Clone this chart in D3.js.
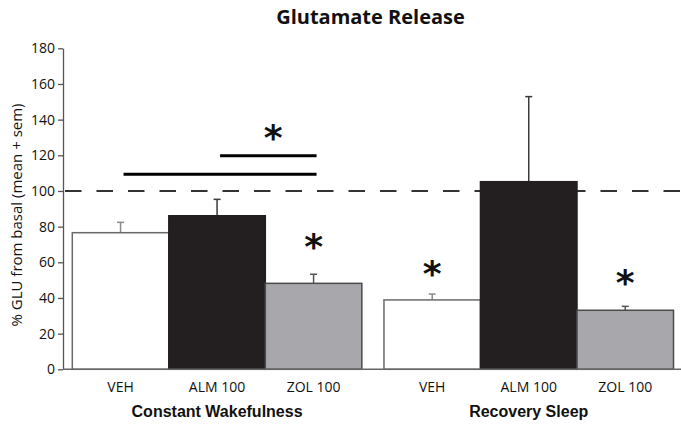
<!DOCTYPE html>
<html>
<head>
<meta charset="utf-8">
<script src="https://cdn.jsdelivr.net/npm/d3@7"></script>
<style>
  html, body { margin: 0; padding: 0; background: #fff; }
  svg { display: block; }
</style>
</head>
<body>
<svg id="chart" width="681" height="424"></svg>
<script>
// Glutamate release, % of basal, mean + sem
const groups = ["Constant Wakefulness", "Recovery Sleep"];
const treatments = ["VEH", "ALM 100", "ZOL 100"];
const meanValues = [
  [76.6, 86.1, 48.2],   // Constant Wakefulness
  [38.9, 105.2, 33.1]   // Recovery Sleep
];
const semValues = [
  [5.8, 9.2, 5.1],
  [3.3, 47.7, 2.2]
];
const yTicks = [0, 20, 40, 60, 80, 100, 120, 140, 160, 180];
const baselineValue = 100;
// significance brackets within Constant Wakefulness: [from, to, level]
const brackets = [
  ["VEH", "ZOL 100", 109.4],
  ["ALM 100", "ZOL 100", 119.8]
];
// asterisks: group, treatment span, level
const stars = [
  { group: "Constant Wakefulness", from: "ALM 100", to: "ZOL 100", level: 135.6 },
  { group: "Constant Wakefulness", from: "ZOL 100", to: "ZOL 100", level: 74.5 },
  { group: "Recovery Sleep", from: "VEH", to: "VEH", level: 59.3 },
  { group: "Recovery Sleep", from: "ZOL 100", to: "ZOL 100", level: 54.3 }
];

const fills = { "VEH": "#ffffff", "ALM 100": "#231f20", "ZOL 100": "#a8a7ac" };
const strokes = { "VEH": "#6a6a6a", "ALM 100": "#231f20", "ZOL 100": "#4a4a4a" };
const errColors = { "VEH": "#8a8a8a", "ALM 100": "#3a3a3a", "ZOL 100": "#555555" };

const svg = d3.select("#chart");
const plotLeft = 63, plotRight = 681, plotTop = 48.3, plotBottom = 369.3;

const y = d3.scaleLinear().domain([0, 180]).range([plotBottom, plotTop]);
const xGroup = d3.scaleBand().domain(groups).range([72.3, 673.5]).paddingInner(0.071).paddingOuter(0);
const xTreat = d3.scaleBand().domain(treatments).range([0, xGroup.bandwidth()]).padding(0);
const cx = (g, t) => xGroup(g) + xTreat(t) + xTreat.bandwidth() / 2;

// Title
svg.append("text")
  .attr("x", 370.5).attr("y", 24)
  .attr("text-anchor", "middle")
  .attr("font-family", "'Open Sans', sans-serif")
  .attr("font-weight", "bold").attr("font-size", 20)
  .attr("fill", "#111")
  .text("Glutamate Release");

// Y axis
const yAxis = svg.append("g")
  .attr("transform", `translate(${plotLeft},0)`)
  .call(d3.axisLeft(y).tickValues(yTicks).tickSize(5).tickPadding(3).tickSizeOuter(0));
yAxis.select(".domain").attr("stroke", "#555").attr("stroke-width", 1.3);
yAxis.selectAll(".tick line").attr("stroke", "#555").attr("stroke-width", 1.3);
yAxis.selectAll(".tick text")
  .attr("font-family", "'Open Sans', sans-serif").attr("font-size", 14).attr("fill", "#111");

// Y label
svg.append("text")
  .attr("transform", `translate(22,${215}) rotate(-90)`)
  .attr("text-anchor", "middle")
  .attr("font-family", "'Open Sans', sans-serif").attr("font-size", 15)
  .attr("fill", "#111")
  .text("% GLU from basal (mean + sem)");

// Bars and error bars
const barData = [];
groups.forEach((g, gi) => treatments.forEach((t, ti) => {
  barData.push({ g, t, mean: meanValues[gi][ti], sem: semValues[gi][ti] });
}));

const errG = svg.append("g");
errG.selectAll("line.err").data(barData).join("line")
  .attr("x1", d => cx(d.g, d.t)).attr("x2", d => cx(d.g, d.t))
  .attr("y1", d => y(d.mean)).attr("y2", d => y(d.mean + d.sem))
  .attr("stroke", d => errColors[d.t]).attr("stroke-width", 1.5);
errG.selectAll("line.cap").data(barData).join("line")
  .attr("x1", d => cx(d.g, d.t) - 3.5).attr("x2", d => cx(d.g, d.t) + 3.5)
  .attr("y1", d => y(d.mean + d.sem)).attr("y2", d => y(d.mean + d.sem))
  .attr("stroke", d => errColors[d.t]).attr("stroke-width", 1.5);

// Dashed 100% reference line
svg.append("line")
  .attr("x1", plotLeft + 2).attr("x2", plotRight)
  .attr("y1", y(baselineValue)).attr("y2", y(baselineValue))
  .attr("stroke", "#333").attr("stroke-width", 2)
  .attr("stroke-dasharray", "16.5 15");

svg.append("g").selectAll("rect").data(barData).join("rect")
  .attr("x", d => xGroup(d.g) + xTreat(d.t))
  .attr("y", d => y(d.mean))
  .attr("width", xTreat.bandwidth())
  .attr("height", d => y(0) - y(d.mean))
  .attr("fill", d => fills[d.t])
  .attr("stroke", d => strokes[d.t]).attr("stroke-width", 1.5);

// X axis baseline
svg.append("line")
  .attr("x1", plotLeft).attr("x2", plotRight)
  .attr("y1", plotBottom).attr("y2", plotBottom)
  .attr("stroke", "#666").attr("stroke-width", 1.5);

// Treatment labels
svg.append("g").selectAll("text").data(barData).join("text")
  .attr("x", d => cx(d.g, d.t)).attr("y", 392)
  .attr("text-anchor", "middle")
  .attr("font-family", "'Open Sans', sans-serif").attr("font-size", 14)
  .attr("fill", "#111")
  .text(d => d.t);

// Group labels
svg.append("g").selectAll("text").data(groups).join("text")
  .attr("x", g => xGroup(g) + xGroup.bandwidth() / 2).attr("y", 417)
  .attr("text-anchor", "middle")
  .attr("font-family", "'Liberation Sans', Arial, sans-serif")
  .attr("font-weight", "bold").attr("font-size", 16)
  .attr("fill", "#111")
  .text(g => g);

// Significance brackets
svg.append("g").selectAll("line").data(brackets).join("line")
  .attr("x1", d => cx(groups[0], d[0]) + 3).attr("x2", d => cx(groups[0], d[1]) + 3)
  .attr("y1", d => y(d[2])).attr("y2", d => y(d[2]))
  .attr("stroke", "#000").attr("stroke-width", 3);

// Asterisks
svg.append("g").selectAll("text").data(stars).join("text")
  .attr("x", d => d.from === d.to ? cx(d.group, d.from)
        : cx(d.group, d.from) + 0.58 * (cx(d.group, d.to) - cx(d.group, d.from)))
  .attr("y", d => y(d.level))
  .attr("dy", "0.62em")
  .attr("text-anchor", "middle")
  .attr("font-family", "'DejaVu Sans', sans-serif")
  .attr("font-weight", "bold").attr("font-size", 36)
  .attr("fill", "#111")
  .text("*");
</script>
</body>
</html>
